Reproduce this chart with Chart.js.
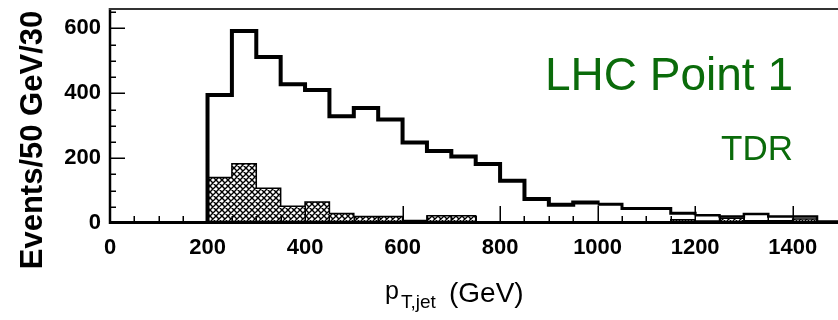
<!DOCTYPE html>
<html>
<head>
<meta charset="utf-8">
<script src="https://cdn.jsdelivr.net/npm/chart.js@4.4.1/dist/chart.umd.min.js"></script>
<style>
html,body{margin:0;padding:0;background:#fff;}
#wrap{width:838px;height:320px;position:relative;}
</style>
</head>
<body>
<div id="wrap"><canvas id="c" width="838" height="320"></canvas></div>
<script>
// ---- data (bin low edges in GeV, 50 GeV wide) ----
const binLowEdges = [200,250,300,350,400,450,500,550,600,650,700,750,800,850,900,950,1000,1050,1100,1150,1200,1250,1300,1350,1400,1450];
const allEvents   = [395,592,512,428,410,329,355,319,248,222,205,182,130,74,56,63,58,45,45,30,24,20,28,20,20,5];
const bkgEvents   = [140,183,107,52,65,29,20,20,8,22,22,4,0,0,0,2,0,0,0,10,6,15,7,7,12,0];
const binWidth = 50;
const xMajorTicks = [0,200,400,600,800,1000,1200,1400];
const yMajorTicks = [0,200,400,600];
const xTitleMain = 'p', xTitleSub = 'T,jet', xTitleUnit = '(GeV)';
const yTitle = 'Events/50 GeV/30';
const label1 = 'LHC Point 1', label2 = 'TDR';

function histPoints(vals, startZero) {
  const pts = [];
  if (startZero) pts.push({x: 0, y: 0});
  binLowEdges.forEach((e, i) => pts.push({x: e, y: vals[i]}));
  pts.push({x: binLowEdges[binLowEdges.length - 1] + binWidth, y: vals[vals.length - 1]});
  return pts;
}

function makeHatch() {
  const s = 6;
  const p = document.createElement('canvas');
  p.width = s; p.height = s;
  const g = p.getContext('2d');
  g.fillStyle = '#fff'; g.fillRect(0, 0, s, s);
  g.strokeStyle = '#000'; g.lineWidth = 1.4;
  g.beginPath();
  g.moveTo(-1, -1); g.lineTo(s + 1, s + 1);
  g.moveTo(-1, s + 1); g.lineTo(s + 1, -1);
  g.moveTo(-1, 1); g.lineTo(1, -1);
  g.moveTo(s - 1, s + 1); g.lineTo(s + 1, s - 1);
  g.moveTo(-1, s - 1); g.lineTo(1, s + 1);
  g.moveTo(s - 1, -1); g.lineTo(s + 1, 1);
  g.stroke();
  return g.createPattern(p, 'repeat');
}

const decor = {
  id: 'decor',
  afterDatasetsDraw(chart) {
    const ctx = chart.ctx, xs = chart.scales.x, ys = chart.scales.y, ca = chart.chartArea;
    const y0 = ys.getPixelForValue(0);
    ctx.save();
    ctx.strokeStyle = '#000';
    ctx.lineCap = 'butt';
    ctx.lineWidth = 1.5;
    for (let v = 0; v < xs.max; v += 50) {
      const px = Math.round(xs.getPixelForValue(v)) + 0.25;
      const len = xMajorTicks.includes(v) ? 17 : 7;
      ctx.beginPath(); ctx.moveTo(px, y0); ctx.lineTo(px, y0 - len); ctx.stroke();
    }
    for (let v = 0; v < ys.max; v += 50) {
      const py = Math.round(ys.getPixelForValue(v)) + 0.25;
      const len = yMajorTicks.includes(v) ? 15 : 6;
      ctx.beginPath(); ctx.moveTo(ca.left, py); ctx.lineTo(ca.left + len, py); ctx.stroke();
    }
    ctx.lineWidth = 3;
    ctx.beginPath(); ctx.moveTo(ca.left - 1, y0 - 0.5); ctx.lineTo(ca.right, y0 - 0.5); ctx.stroke();
    ctx.lineWidth = 2.5;
    ctx.beginPath(); ctx.moveTo(ca.left, ca.top); ctx.lineTo(ca.left, y0 + 1); ctx.stroke();
    ctx.strokeStyle = '#333'; ctx.lineWidth = 2;
    ctx.beginPath(); ctx.moveTo(ca.left - 1, ca.top + 1); ctx.lineTo(ca.right, ca.top + 1); ctx.stroke();

    ctx.fillStyle = '#0a6b0a';
    ctx.textAlign = 'right'; ctx.textBaseline = 'alphabetic';
    ctx.font = '46px "Liberation Sans", Arial, sans-serif';
    ctx.fillText(label1, 793, 90);
    ctx.font = '35px "Liberation Sans", Arial, sans-serif';
    ctx.fillText(label2, 793, 160);

    ctx.fillStyle = '#000'; ctx.textAlign = 'left';
    ctx.font = '25px "Liberation Sans", Arial, sans-serif';
    ctx.fillText(xTitleMain, 385, 299);
    ctx.font = '19px "Liberation Sans", Arial, sans-serif';
    ctx.fillText(xTitleSub, 401, 308);
    ctx.font = '28px "Liberation Sans", Arial, sans-serif';
    ctx.fillText(xTitleUnit, 449, 302);

    ctx.translate(42, 140);
    ctx.rotate(-Math.PI / 2);
    ctx.textAlign = 'center';
    ctx.font = 'bold 31px "Liberation Sans", Arial, sans-serif';
    ctx.fillText(yTitle, 0, 0);
    ctx.restore();
  }
};

const hatch = makeHatch();
new Chart(document.getElementById('c'), {
  type: 'line',
  data: {
    datasets: [
      {
        data: histPoints(allEvents, true),
        stepped: true,
        borderColor: '#000',
        borderWidth: 4,
        fill: false,
        pointRadius: 0,
        segment: {
          borderWidth: c => c.p0.parsed.x < 1000 ? 4 : (c.p0.parsed.x < 1200 ? 3 : 2.5)
        }
      },
      {
        data: histPoints(bkgEvents, false),
        stepped: true,
        borderColor: '#000',
        borderWidth: 1.5,
        backgroundColor: hatch,
        fill: 'origin',
        pointRadius: 0
      }
    ]
  },
  plugins: [decor],
  options: {
    responsive: false,
    animation: false,
    events: [],
    layout: { padding: { top: 8, right: 0, left: 0, bottom: 0 } },
    plugins: { legend: { display: false }, tooltip: { enabled: false } },
    scales: {
      x: {
        type: 'linear', min: 0, max: 1493,
        grid: { display: false, drawTicks: false },
        border: { display: false },
        afterFit: s => { s.height = 97; s.paddingLeft = 0; s.paddingRight = 0; },
        ticks: {
          stepSize: 50, autoSkip: false, maxRotation: 0, includeBounds: false,
          padding: 12, color: '#000',
          font: { family: '"Liberation Sans", Arial, sans-serif', size: 22, weight: 'bold' },
          callback: v => xMajorTicks.includes(v) ? String(v) : ''
        }
      },
      y: {
        type: 'linear', min: 0, max: 663,
        grid: { display: false, drawTicks: false },
        border: { display: false },
        afterFit: s => { s.width = 110; s.paddingTop = 0; s.paddingBottom = 0; },
        ticks: {
          stepSize: 50, autoSkip: false, includeBounds: false,
          padding: 9, color: '#000',
          font: { family: '"Liberation Sans", Arial, sans-serif', size: 22, weight: 'bold' },
          callback: v => yMajorTicks.includes(v) ? String(v) : ''
        }
      }
    }
  }
});
</script>
</body>
</html>
